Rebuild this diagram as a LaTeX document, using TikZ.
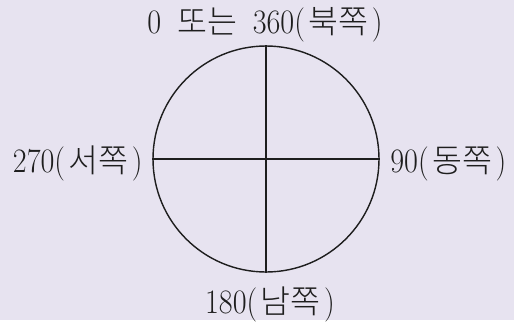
\documentclass[tikz,border=0pt]{standalone}
\usepackage{fontspec}
\usepackage{tikz}
\usetikzlibrary{positioning,calc}
\setmainfont{Latin Modern Roman}[FakeStretch=0.88]
\newfontfamily\kr{Noto Sans CJK KR Light}
\newcommand{\hg}[1]{\kern2pt{\kr\fontsize{18.5}{20}\selectfont #1}\kern2pt}
\definecolor{PaleLilac}{RGB}{231,227,240}
\definecolor{InkBlack}{RGB}{30,30,30}

\begin{document}
\begin{tikzpicture}[every node/.style={font=\fontsize{19.5}{22}\selectfont, text=InkBlack, inner sep=0pt}]
  \tikzset{
    dial/.style={draw=InkBlack, line width=0.8pt, circle, minimum size=4.52cm},
    axis/.style={draw=InkBlack, line width=0.8pt}
  }
  \fill[PaleLilac] (0,0) rectangle (10.28,6.4);
  \node[dial] (compass) at (5.32,3.22) {};
  \draw[axis] (compass.north) -- (compass.south);
  \draw[axis] (compass.west) -- (compass.east);
  \node[anchor=base] (north) at (5.30,5.74) {0\hspace{7pt}\hg{또는}\hspace{7pt}360(\hg{북쪽})};
  \node[anchor=base east] (west) at (2.86,2.96) {270(\hg{서쪽})};
  \node[anchor=base west] (east) at (7.80,2.96) {90(\hg{동쪽})};
  \node[anchor=base] (south) at (5.40,0.14) {180(\hg{남쪽})};
\end{tikzpicture}
\end{document}
